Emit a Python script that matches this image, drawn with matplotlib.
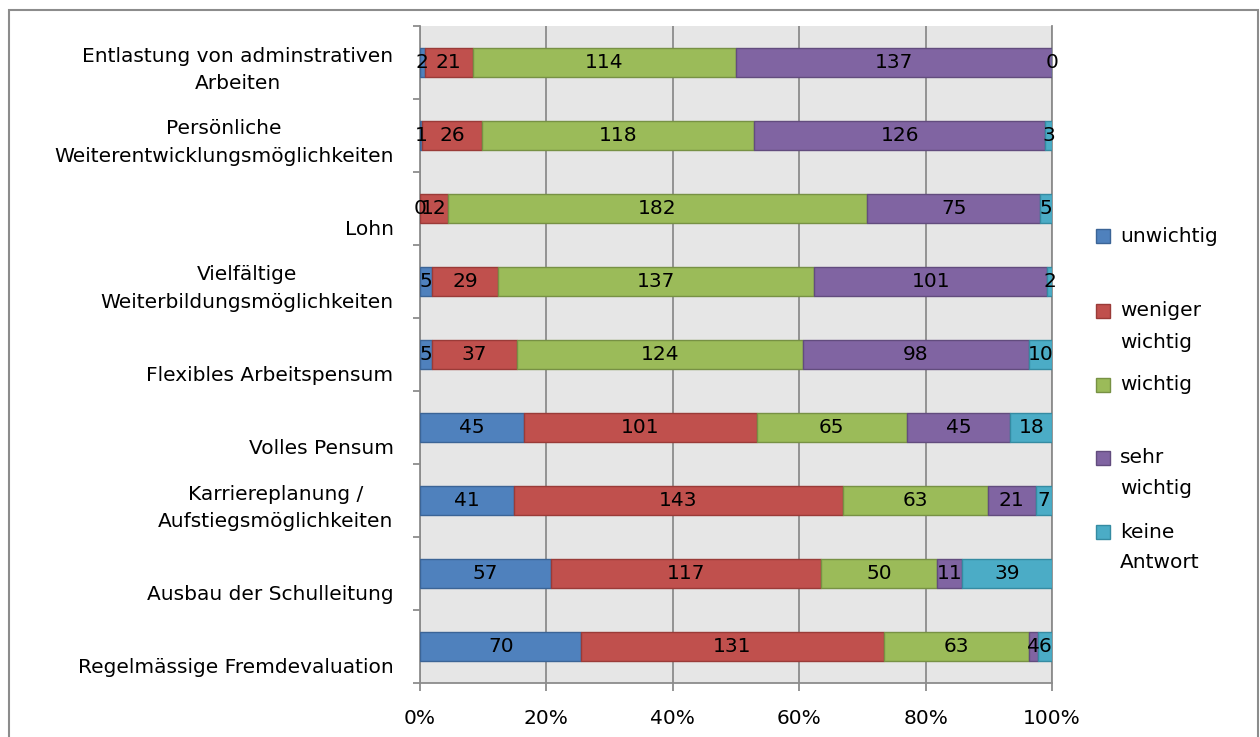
import matplotlib
matplotlib.use("Agg")
import matplotlib.pyplot as plt
import matplotlib.transforms as mtransforms
from matplotlib.patches import Rectangle
from matplotlib.ticker import FuncFormatter, FixedLocator
import numpy as np

categories = [
    "Entlastung von adminstrativen\nArbeiten",
    "Persönliche\nWeiterentwicklungsmöglichkeiten",
    "Lohn",
    "Vielfältige\nWeiterbildungsmöglichkeiten",
    "Flexibles Arbeitspensum",
    "Volles Pensum",
    "Karriereplanung /\nAufstiegsmöglichkeiten",
    "Ausbau der Schulleitung",
    "Regelmässige Fremdevaluation",
]
series_names = ["unwichtig", "weniger\nwichtig", "wichtig", "sehr\nwichtig", "keine\nAntwort"]
unwichtig = [2, 1, 0, 5, 5, 45, 41, 57, 70]
weniger_wichtig = [21, 26, 12, 29, 37, 101, 143, 117, 131]
wichtig = [114, 118, 182, 137, 124, 65, 63, 50, 63]
sehr_wichtig = [137, 126, 75, 101, 98, 45, 21, 11, 4]
keine_antwort = [0, 3, 5, 2, 10, 18, 7, 39, 6]
x_ticks = [0, 0.2, 0.4, 0.6, 0.8, 1.0]

colors = ["#4F81BD", "#C0504D", "#9BBB59", "#8064A2", "#4BACC6"]
edges = ["#3B6496", "#9A3B38", "#779144", "#624C7E", "#358BA2"]

W, H = 1260, 737
fig = plt.figure(figsize=(W / 100, H / 100), dpi=100)
plt.rcParams["font.family"] = ["DejaVu Sans"]
FS = 14.5

# outer frame
fig.patches.append(Rectangle((9 / W, -0.02), 1249 / W, (737 - 10) / H + 0.02,
                             transform=fig.transFigure, fill=False,
                             edgecolor="#8C8C8C", lw=1.5, zorder=0))

left, right, top, bottom = 420, 1052, 26, 683
ax = fig.add_axes([left / W, 1 - bottom / H, (right - left) / W, (bottom - top) / H])
ax.set_facecolor("#E6E6E6")

data = np.array([unwichtig, weniger_wichtig, wichtig, sehr_wichtig, keine_antwort], dtype=float)
totals = data.sum(axis=0)
frac = data / totals
y = np.arange(len(categories))
cum = np.zeros(len(categories))
for i in range(len(series_names)):
    ax.barh(y, frac[i], left=cum, height=0.41, color=colors[i],
            edgecolor=edges[i], linewidth=1, zorder=3)
    for j in range(len(categories)):
        ax.text(cum[j] + frac[i][j] / 2, y[j], f"{int(data[i][j])}",
                ha="center", va="center", fontsize=FS, color="black", zorder=4)
    cum += frac[i]

ax.set_xlim(0, 1)
ax.set_ylim(len(categories) - 0.5, -0.5)
ax.set_xticks(x_ticks)
ax.xaxis.set_major_formatter(FuncFormatter(lambda v, p: f"{v*100:.0f}%"))
ax.grid(axis="x", color="#8C8C8C", lw=1.3, zorder=1)
ax.tick_params(axis="x", length=6, width=1.3, color="#8C8C8C", labelsize=FS, pad=13)

ax.set_yticks(y)
labels = [c if "\n" in c else "\n" + c for c in categories]
ax.set_yticklabels(labels, fontsize=FS, multialignment="center", linespacing=1.55)
ax.yaxis.set_minor_locator(FixedLocator(np.arange(-0.5, len(categories), 1.0)))
ax.tick_params(axis="y", which="major", length=0, pad=19)
ax.tick_params(axis="y", which="minor", length=5, width=1.3, color="#8C8C8C")
off = mtransforms.ScaledTranslation(0, -1 / 100, fig.dpi_scale_trans)
for t in ax.get_yticklabels():
    t.set_transform(t.get_transform() + off)

ax.spines["top"].set_visible(False)
for s in ["left", "bottom", "right"]:
    ax.spines[s].set_color("#8C8C8C")
    ax.spines[s].set_linewidth(1.3)

# legend (manual, Excel-style: marker aligned with first line)
leg_y = [236, 311, 385, 458, 532]
line_gap = 31
for name, c, e, yy in zip(series_names, colors, edges, leg_y):
    fig.patches.append(Rectangle((1096 / W, 1 - (yy + 7) / H), 14 / W, 14 / H,
                                 transform=fig.transFigure, facecolor=c,
                                 edgecolor=e, lw=1))
    for k, line in enumerate(name.split("\n")):
        fig.text(1120 / W, 1 - (yy + k * line_gap) / H, line, ha="left",
                 va="center", fontsize=FS)

fig.savefig("out.png", dpi=100)
